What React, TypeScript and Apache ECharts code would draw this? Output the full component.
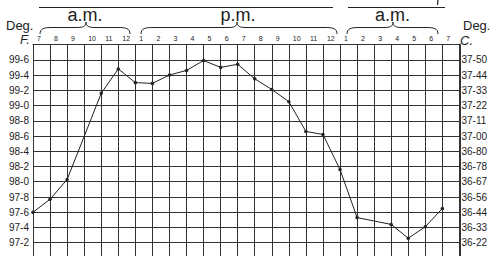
import React, { useEffect, useRef } from "react";
import * as echarts from "echarts";

const hourLabels = ["7", "8", "9", "10", "11", "12", "1", "2", "3", "4", "5", "6", "7", "8", "9", "10", "11", "12", "1", "2", "3", "4", "5", "6", "7"];
// Temperature in °F at each hour (null = no marker, line passes through)
const tempF: (number | null)[] = [97.6, 97.77, 98.03, null, 99.16, 99.48, 99.3, 99.29, 99.4, 99.46, 99.59, 99.5, 99.54, 99.35, 99.21, 99.05, 98.66, 98.62, 98.16, 97.53, null, 97.44, 97.26, 97.41, 97.65];
// Right-hand Celsius tick labels, from 99.6°F line down to 97.2°F line
const celsiusLabels = ["37-50", "37-44", "37-33", "37-22", "37-11", "37-00", "36-80", "36-78", "36-67", "36-56", "36-44", "36-33", "36-22"];
const periodLabels = ["a.m.", "p.m.", "a.m."];

const FONT = "'Liberation Sans', Arial, sans-serif";
const INK = "#222";

function brace(x1: number, x2: number, tip: number) {
  const yEnd = 34, yFlat = 27.5, yTip = 22;
  const st = { stroke: INK, lineWidth: 1, fill: "none" };
  return [
    { type: "bezierCurve", shape: { x1, y1: yEnd, cpx1: x1, cpy1: yFlat + 1, cpx2: x1 + 4, cpy2: yFlat, x2: x1 + 12, y2: yFlat }, style: st },
    { type: "line", shape: { x1: x1 + 12, y1: yFlat, x2: tip - 9, y2: yFlat }, style: st },
    { type: "bezierCurve", shape: { x1: tip - 9, y1: yFlat, cpx1: tip - 3, cpy1: yFlat, cpx2: tip, cpy2: yFlat - 1, x2: tip, y2: yTip }, style: st },
    { type: "bezierCurve", shape: { x1: tip, y1: yTip, cpx1: tip, cpy1: yFlat - 1, cpx2: tip + 3, cpy2: yFlat, x2: tip + 9, y2: yFlat }, style: st },
    { type: "line", shape: { x1: tip + 9, y1: yFlat, x2: x2 - 12, y2: yFlat }, style: st },
    { type: "bezierCurve", shape: { x1: x2 - 12, y1: yFlat, cpx1: x2 - 4, cpy1: yFlat, cpx2: x2, cpy2: yFlat + 1, x2: x2, y2: yEnd }, style: st },
  ];
}

export default function App() {
  const ref = useRef<HTMLDivElement>(null);
  useEffect(() => {
    if (!ref.current) return;
    const chart = echarts.init(ref.current, null, { renderer: "svg" });
    const gridLine = { show: true, lineStyle: { color: "#333", width: 1 } };
    const option: any = {
      animation: false,
      backgroundColor: "#fff",
      grid: { left: 33, right: 30, top: 44.5, height: 213.5 },
      xAxis: {
        type: "value",
        position: "top",
        min: 0,
        max: 25,
        interval: 1,
        axisLine: { show: true, lineStyle: { color: "#333", width: 1 } },
        axisTick: { show: false },
        splitLine: gridLine,
        axisLabel: {
          show: true,
          fontSize: 7,
          fontFamily: FONT,
          color: INK,
          align: "left",
          padding: [0, 0, 0, 4],
          margin: 3,
          showMinLabel: true,
          showMaxLabel: true,
          formatter: (v: number) => hourLabels[Math.round(v)] ?? "",
        },
      },
      yAxis: [
        {
          type: "value",
          position: "left",
          min: 97,
          max: 99.8,
          interval: 0.2,
          axisLine: { show: true, lineStyle: { color: "#333", width: 1 } },
          axisTick: { show: false },
          splitLine: gridLine,
          axisLabel: {
            fontSize: 10,
            fontFamily: FONT,
            color: INK,
            margin: 4,
            showMinLabel: true,
            showMaxLabel: true,
            formatter: (v: number) => (v > 99.7 || v < 97.1 ? "" : v.toFixed(1).replace(".", "-")),
          },
        },
        {
          type: "value",
          position: "right",
          min: 97,
          max: 99.8,
          interval: 0.2,
          axisLine: { show: true, lineStyle: { color: "#333", width: 2 } },
          axisTick: { show: false },
          splitLine: { show: false },
          axisLabel: {
            fontSize: 10,
            fontFamily: FONT,
            color: INK,
            margin: 2,
            showMinLabel: true,
            showMaxLabel: true,
            formatter: (v: number) => {
              const i = Math.round((99.6 - v) / 0.2);
              return celsiusLabels[i] ?? "";
            },
          },
        },
      ],
      series: [
        {
          type: "line",
          yAxisIndex: 0,
          data: tempF.map((v, i) => [i, v === null ? "-" : v]),
          connectNulls: true,
          symbol: "circle",
          symbolSize: 3.5,
          itemStyle: { color: INK },
          lineStyle: { color: INK, width: 1 },
          z: 5,
        },
      ],
      graphic: [
        { type: "line", shape: { x1: 39, y1: 7.5, x2: 333, y2: 7.5 }, style: { stroke: INK, lineWidth: 1.2 } },
        { type: "line", shape: { x1: 348, y1: 7.5, x2: 445, y2: 7.5 }, style: { stroke: INK, lineWidth: 1.2 } },
        { type: "line", shape: { x1: 438, y1: 0, x2: 437.5, y2: 5 }, style: { stroke: INK, lineWidth: 1.2 } },
        ...brace(40, 130, 86),
        ...brace(141, 337, 237),
        ...brace(347, 438, 393),
        { type: "text", x: 85, y: 14.5, style: { text: periodLabels[0], fontSize: 18, fontFamily: FONT, fill: INK, textAlign: "center", textVerticalAlign: "middle" } },
        { type: "text", x: 238, y: 14.5, style: { text: periodLabels[1], fontSize: 18, fontFamily: FONT, fill: INK, textAlign: "center", textVerticalAlign: "middle" } },
        { type: "text", x: 392.5, y: 14.5, style: { text: periodLabels[2], fontSize: 18, fontFamily: FONT, fill: INK, textAlign: "center", textVerticalAlign: "middle" } },
        { type: "text", x: 6, y: 25.5, style: { text: "Deg.", fontSize: 13, lineHeight: 11, fontFamily: FONT, fill: INK, textAlign: "left", textVerticalAlign: "middle" } },
        { type: "text", x: 30, y: 39.5, style: { text: "F.", fontSize: 13, lineHeight: 11, fontStyle: "italic", fontFamily: FONT, fill: INK, textAlign: "right", textVerticalAlign: "middle" } },
        { type: "text", x: 463, y: 25.5, style: { text: "Deg.", fontSize: 13, lineHeight: 11, fontFamily: FONT, fill: INK, textAlign: "left", textVerticalAlign: "middle" } },
        { type: "text", x: 460, y: 40.5, style: { text: "C.", fontSize: 13, lineHeight: 11, fontStyle: "italic", fontFamily: FONT, fill: INK, textAlign: "left", textVerticalAlign: "middle" } },
      ],
    };
    chart.setOption(option);
    return () => chart.dispose();
  }, []);
  return (
    <div style={{ position: "fixed", left: 0, top: 0, width: 490, height: 256, overflow: "hidden", background: "#fff" }}>
      <div ref={ref} style={{ width: 490, height: 270 }} />
    </div>
  );
}
